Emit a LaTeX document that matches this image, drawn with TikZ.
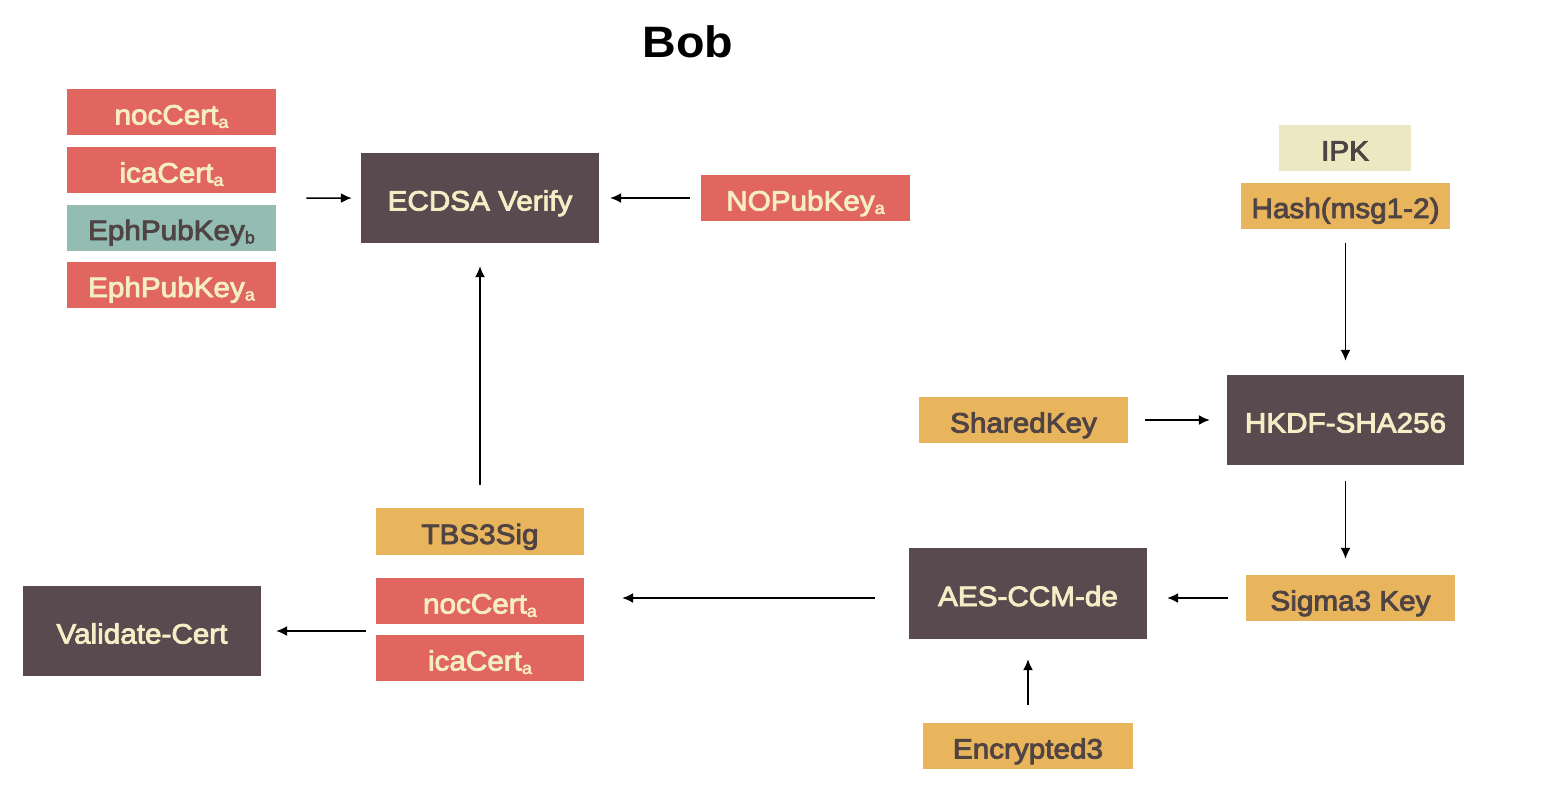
\documentclass[tikz,border=0pt]{standalone}
\usepackage{fontspec}
\setmainfont{Liberation Sans}[FakeStretch=1.06,FakeBold=3]
\newfontfamily\titlefont{Liberation Sans}[FakeStretch=1.06]
\usetikzlibrary{arrows.meta,fit}
\definecolor{cred}{HTML}{E0665F}
\definecolor{cteal}{HTML}{93BDB3}
\definecolor{corange}{HTML}{E8B45C}
\definecolor{cpale}{HTML}{EEE8C2}
\definecolor{cdark}{HTML}{594A4F}
\definecolor{ccream}{HTML}{F5EDC5}
\definecolor{ctext}{HTML}{4F4344}
\newcommand{\subs}[1]{\raisebox{-0.12em}{\fontsize{17}{17}\selectfont #1}}
\tikzset{
  box/.style={rectangle, inner sep=0pt, minimum width=209pt, minimum height=46pt,
    text height=25pt, text depth=0pt, font=\fontsize{28}{30}\selectfont},
  redbox/.style={box, fill=cred, text=ccream},
  tealbox/.style={box, fill=cteal, text=ctext},
  orbox/.style={box, fill=corange, text=ctext},
  palebox/.style={box, fill=cpale, text=ctext, minimum width=132pt},
  proc/.style={box, fill=cdark, text=ccream, minimum width=238pt, minimum height=90pt},
  arr/.style={draw=black, line width=1.6pt, -{Latex[length=11pt,width=10pt]}},
}
\begin{document}
\begin{tikzpicture}[x=1pt,y=-1pt]
\fill[white] (0,0) rectangle (1550,804);
\useasboundingbox (0,0) rectangle (1550,804);
\node[font=\titlefont\bfseries\fontsize{44}{48}\selectfont, text=black] (title) at (688,42) {Bob};
% left stack
\node[redbox] (n1) at (171.5,112) {nocCert\subs{a}};
\node[redbox] (n2) at (171.5,170) {icaCert\subs{a}};
\node[tealbox] (n3) at (171.5,227.5) {EphPubKey\subs{b}};
\node[redbox] (n4) at (171.5,284.5) {EphPubKey\subs{a}};
\node[fit=(n1)(n4), inner sep=0pt] (stk) {};
\node[proc] (ecdsa) at (480,198) {ECDSA Verify};
\node[redbox] (nop) at (805.5,198) {NOPubKey\subs{a}};
% right column
\node[palebox] (ipk) at (1345,148) {IPK};
\node[orbox] (hash) at (1345.5,205.5) {Hash(msg1-2)};
\node[proc, minimum width=237pt] (hkdf) at (1345.5,420) {HKDF-SHA256};
\node[orbox] (shared) at (1023.5,420) {SharedKey};
\node[orbox] (sigma) at (1350.5,598) {Sigma3 Key};
\node[proc, minimum height=91pt] (aes) at (1028,593.5) {AES-CCM-de};
\node[orbox, minimum width=210pt] (enc) at (1028,746) {Encrypted3};
% lower left
\node[orbox, minimum width=208pt, minimum height=47pt] (tbs) at (480,531.5) {TBS3Sig};
\node[redbox, minimum width=208pt] (noc2) at (480,601) {nocCert\subs{a}};
\node[redbox, minimum width=208pt] (ica2) at (480,658) {icaCert\subs{a}};
\node[fit=(noc2)(ica2), inner sep=0pt] (stk2) {};
\node[proc] (valid) at (142,631) {Validate-Cert};
% connectors
\draw[arr, shorten <=30pt, shorten >=9pt] (stk.east) -- (ecdsa.west);
\draw[arr, shorten <=11pt, shorten >=11pt] (nop.west) -- (ecdsa.east);
\draw[arr, shorten <=23pt, shorten >=23pt] (tbs.north) -- (ecdsa.south);
\draw[arr, shorten <=14pt, shorten >=14pt] (hash.south) -- (hkdf.north);
\draw[arr, shorten <=17pt, shorten >=17pt] (shared.east) -- (hkdf.west);
\draw[arr, shorten <=16pt, shorten >=16pt] (hkdf.south) -- (hkdf.south |- sigma.north);
\draw[arr, shorten <=18pt, shorten >=20pt] (sigma.west) -- (sigma.west -| aes.east);
\draw[arr, shorten <=18pt, shorten >=20pt] (enc.north) -- (aes.south);
\draw[arr, shorten <=34pt, shorten >=38pt] (sigma.west -| aes.west) -- (sigma.west -| noc2.east);
\draw[arr, shorten <=10pt, shorten >=15pt] (stk2.west |- valid.east) -- (valid.east);
\end{tikzpicture}
\end{document}
